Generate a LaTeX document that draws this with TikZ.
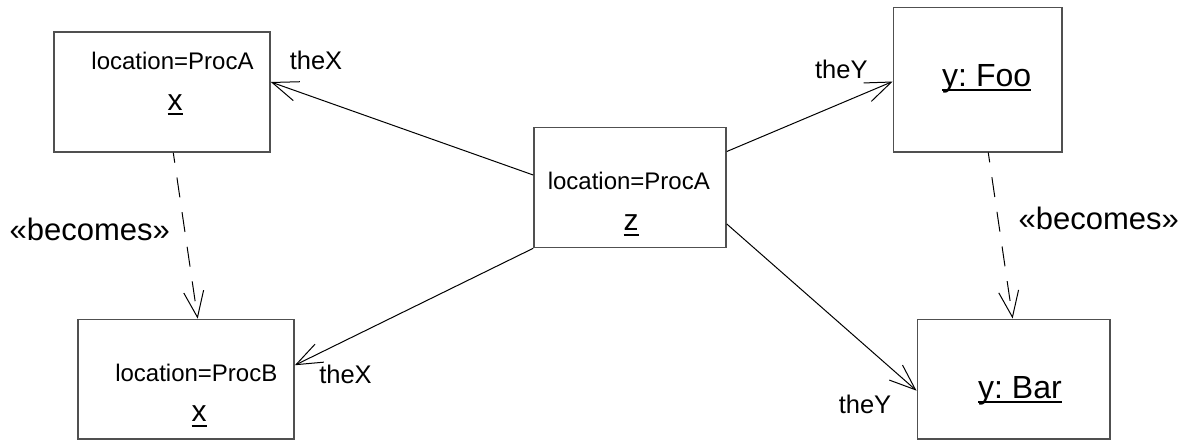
\documentclass[tikz,border=0pt]{standalone}
\usepackage{fontspec}
\setmainfont{Liberation Sans}
\usetikzlibrary{arrows.meta}
\frenchspacing

% underlined object name with a heavy rule just under the baseline
\newcommand\objname[1]{\setbox0\hbox{#1}\rlap{\rule[-5pt]{\wd0}{2.2pt}}\box0}

\begin{document}
\begin{tikzpicture}[x=1pt, y=-1pt,
  objbox/.style={draw={rgb,255:red,80;green,80;blue,80}, line width=1.6pt,
    inner sep=0pt, fill=white},
  attrtext/.style={anchor=base, inner sep=0pt, font=\fontsize{24}{28}\selectfont},
  objtext/.style={anchor=base, inner sep=0pt, font=\fontsize{30}{34}\selectfont},
  roletext/.style={anchor=base, inner sep=0pt, font=\fontsize{25.5}{30}\selectfont},
  stereotext/.style={anchor=base, inner sep=0pt, font=\fontsize{31}{35}\selectfont},
  assoc/.style={draw=black, line width=1pt,
    -{Straight Barb[length=26pt, width=20pt, line width=1pt]}},
  becomesdep/.style={assoc, dash pattern=on 20pt off 15pt, dash phase=10pt}]

\useasboundingbox (0,0) rectangle (1189,440);

% object boxes
\node[objbox, minimum width=216pt, minimum height=120pt]   (A)   at (162,92) {};
\node[objbox, minimum width=216pt, minimum height=119.5pt] (B)   at (186,379.25) {};
\node[objbox, minimum width=192pt, minimum height=120pt]   (Z)   at (630,187.5) {};
\node[objbox, minimum width=168.5pt, minimum height=144.4pt] (Foo) at (977.75,79.5) {};
\node[objbox, minimum width=192.7pt, minimum height=119.7pt] (Bar) at (1013.65,379.15) {};

% box contents
\node[attrtext] (Aloc) at (172.5,69.3) {location=ProcA};
\node[objtext] (Aname) at (175,110) {\objname{x}};
\node[attrtext] (Bloc) at (196.3,381) {location=ProcB};
\node[objtext] (Bname) at (199.2,421.7) {\objname{x}};
\node[attrtext] (Zloc) at (628.8,189) {location=ProcA};
\node[objtext] (Zname) at (631,230.7) {\objname{z}};
\node[objtext, font=\fontsize{32}{36}\selectfont] (Fooname) at (986.7,86) {\objname{y: Foo}};
\node[objtext, font=\fontsize{32}{36}\selectfont] (Barname) at (1020,398.3) {\objname{y: Bar}};

% links from z
\draw[assoc] ([yshift=12.5pt]Z.west) -- ([yshift=10pt]A.east);
\draw[assoc] (Z.south west) -- ([yshift=14pt]B.east);
\draw[assoc] ([yshift=36pt]Z.east) -- ([yshift=-2pt]Foo.west);
\draw[assoc] ([yshift=-36.5pt]Z.east) -- ([yshift=-11.5pt]Bar.west);

% becomes dependencies
\draw[becomesdep] ([xshift=11.3pt]A.south) -- ([xshift=11.7pt]B.north);
\draw[becomesdep] ([xshift=10.5pt]Foo.south) -- ([xshift=-1pt]Bar.north);

% role names
\node[roletext] (rA) at (316,69.3) {theX};
\node[roletext] (rB) at (345.5,383.3) {theX};
\node[roletext] (rF) at (841.3,78.3) {theY};
\node[roletext] (rR) at (865,413.3) {theY};

% stereotypes
\node[stereotext] (sL) at (89.7,240.7) {«becomes»};
\node[stereotext] (sR) at (1098.8,229.3) {«becomes»};
\end{tikzpicture}
\end{document}
